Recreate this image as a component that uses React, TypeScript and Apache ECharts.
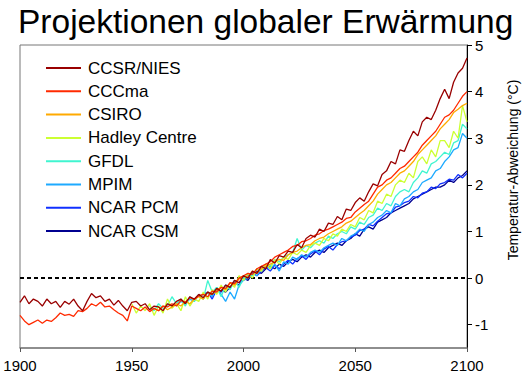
import React, { useEffect, useRef } from "react";
import * as echarts from "echarts";

const TITLE = "Projektionen globaler Erwärmung";
const Y_NAME = "Temperatur-Abweichung (°C)";
const STEP = 2;
const X_TICKS = [1900, 1950, 2000, 2050, 2100];
const Y_TICKS = [-1, 0, 1, 2, 3, 4, 5];

const MODELS = ["CCSR/NIES", "CCCma", "CSIRO", "Hadley Centre", "GFDL", "MPIM", "NCAR PCM", "NCAR CSM"];
const COLORS = ["#990000", "#ff2a00", "#ffaa00", "#ccff33", "#40f5d0", "#1eaaff", "#1030ff", "#000090"];
const START_YEARS = [1900, 1900, 1960, 1950, 1958, 1970, 1980, 1990];

const CCSR_NIES = [
  -0.52, -0.38, -0.55, -0.45, -0.5, -0.6, -0.45, -0.55, -0.5, -0.63,
  -0.5, -0.56, -0.45, -0.6, -0.7, -0.5, -0.33, -0.42, -0.38, -0.5,
  -0.45, -0.58, -0.48, -0.6, -0.7, -0.52, -0.5, -0.6, -0.55, -0.68,
  -0.6, -0.62, -0.7, -0.55, -0.6, -0.5, -0.45, -0.55, -0.4, -0.45,
  -0.35, -0.42, -0.3, -0.35, -0.22, -0.28, -0.15, -0.2, -0.05, -0.1,
  0.05, 0.0, 0.15, 0.1, 0.25, 0.2, 0.4, 0.32, 0.48, 0.45,
  0.58, 0.55, 0.72, 0.65, 0.85, 0.92, 0.88, 1.05, 1.0, 1.18,
  1.15, 1.32, 1.25, 1.48, 1.45, 1.62, 1.72, 1.65, 1.85, 2.02,
  1.98, 2.22, 2.3, 2.5, 2.45, 2.75, 2.72, 2.95, 3.15, 3.05,
  3.35, 3.45, 3.4, 3.6, 3.85, 4.05, 3.85, 4.2, 4.4, 4.5,
  4.72,
];
const CCCMA = [
  -0.8, -0.92, -1.0, -0.95, -0.9, -0.97, -0.9, -0.93, -0.85, -0.75,
  -0.8, -0.78, -0.82, -0.7, -0.72, -0.65, -0.55, -0.6, -0.52, -0.62,
  -0.6, -0.68, -0.75, -0.8, -0.92, -0.6, -0.65, -0.7, -0.62, -0.72,
  -0.65, -0.7, -0.6, -0.62, -0.55, -0.6, -0.48, -0.52, -0.42, -0.46,
  -0.38, -0.35, -0.4, -0.28, -0.3, -0.2, -0.22, -0.1, -0.12, 0.0,
  0.05, 0.1, 0.08, 0.2, 0.25, 0.3, 0.35, 0.45, 0.5, 0.55,
  0.6, 0.68, 0.7, 0.78, 0.8, 0.85, 0.92, 0.95, 1.02, 1.05,
  1.1, 1.15, 1.2, 1.28, 1.3, 1.42, 1.5, 1.58, 1.65, 1.8,
  1.95, 2.0, 2.1, 2.15, 2.25, 2.35, 2.4, 2.5, 2.6, 2.7,
  2.85, 2.95, 3.05, 3.15, 3.3, 3.45, 3.5, 3.6, 3.75, 3.9,
  4.0,
];
const CSIRO = [
  -0.65, -0.7, -0.6, -0.68, -0.62, -0.55, -0.6, -0.5, -0.55, -0.45,
  -0.4, -0.45, -0.3, -0.35, -0.25, -0.2, -0.25, -0.1, -0.15, -0.02,
  0.05, 0.02, 0.15, 0.1, 0.2, 0.25, 0.3, 0.35, 0.4, 0.38,
  0.5, 0.55, 0.58, 0.65, 0.7, 0.72, 0.8, 0.85, 0.88, 0.95,
  1.0, 1.05, 1.1, 1.18, 1.22, 1.3, 1.38, 1.45, 1.55, 1.65,
  1.8, 1.9, 2.0, 2.05, 2.15, 2.25, 2.3, 2.4, 2.5, 2.65,
  2.75, 2.85, 2.95, 3.05, 3.2, 3.3, 3.4, 3.55, 3.62, 3.7,
  3.75,
];
const HADLEY = [
  -0.55, -0.75, -0.6, -0.7, -0.55, -0.8, -0.6, -0.75, -0.45, -0.65,
  -0.55, -0.7, -0.4, -0.6, -0.45, -0.5, -0.3, -0.45, -0.25, -0.35,
  -0.15, -0.3, -0.1, -0.2, 0.05, -0.05, 0.1, 0.0, 0.2, 0.15,
  0.3, 0.2, 0.4, 0.3, 0.45, 0.4, 0.55, 0.5, 0.6, 0.55,
  0.7, 0.75, 0.7, 0.85, 0.8, 0.95, 0.9, 1.05, 1.0, 1.15,
  1.1, 1.3, 1.25, 1.45, 1.4, 1.65, 1.6, 1.8, 1.75, 2.0,
  2.1, 2.05, 2.25, 2.15, 2.5, 2.6, 2.45, 2.75, 2.6, 2.95,
  2.95, 2.8, 3.15, 3.0, 3.7, 3.35,
];
const GFDL = [
  -0.6, -0.7, -0.55, -0.65, -0.6, -0.4, -0.55, -0.45, -0.6, -0.4,
  -0.5, -0.35, -0.45, -0.05, -0.3, -0.2, -0.4, -0.15, -0.25, -0.05,
  -0.2, 0.0, 0.1, 0.05, 0.2, 0.15, 0.3, 0.25, 0.4, 0.35,
  0.45, 0.5, 0.55, 0.85, 0.6, 0.7, 0.65, 0.75, 0.8, 0.75,
  0.9, 0.85, 0.95, 1.0, 0.95, 1.1, 1.05, 1.2, 1.15, 1.3,
  1.35, 1.5, 1.45, 1.6, 1.55, 1.75, 1.85, 1.9, 1.85, 2.05,
  2.15, 2.3, 2.25, 2.45, 2.5, 2.6, 2.7, 2.65, 2.9, 2.95,
  3.3, 3.2,
];
const MPIM = [
  -0.6, -0.5, -0.55, -0.45, -0.5, -0.35, -0.45, -0.3, -0.4, -0.2,
  -0.35, -0.5, -0.3, -0.45, -0.15, -0.05, 0.0, 0.1, 0.05, 0.2,
  0.25, 0.2, 0.3, 0.15, 0.35, 0.3, 0.45, 0.4, 0.5, 0.45,
  0.55, 0.6, 0.55, 0.65, 0.7, 0.75, 0.7, 0.85, 0.8, 0.9,
  0.95, 1.05, 1.0, 1.15, 1.2, 1.3, 1.35, 1.45, 1.4, 1.6,
  1.55, 1.7, 1.75, 1.85, 1.9, 2.05, 2.1, 2.15, 2.3, 2.35,
  2.5, 2.6, 2.75, 2.8, 3.1, 3.0,
];
const NCAR_PCM = [
  -0.4, -0.35, -0.3, -0.45, -0.25, -0.3, -0.15, -0.2, -0.05, -0.1,
  0.0, 0.05, 0.12, 0.05, 0.15, 0.22, 0.15, 0.28, 0.2, 0.3,
  0.38, 0.3, 0.42, 0.48, 0.4, 0.52, 0.58, 0.5, 0.62, 0.68,
  0.6, 0.72, 0.78, 0.8, 0.88, 0.92, 1.02, 1.05, 1.15, 1.12,
  1.22, 1.3, 1.38, 1.4, 1.52, 1.55, 1.62, 1.65, 1.75, 1.72,
  1.82, 1.85, 1.95, 1.92, 2.02, 2.05, 2.12, 2.1, 2.22, 2.15,
  2.25,
];
const NCAR_CSM = [
  -0.25, -0.3, -0.2, -0.1, -0.15, 0.0, -0.05, 0.1, 0.15, 0.1,
  0.2, 0.25, 0.2, 0.3, 0.25, 0.35, 0.4, 0.35, 0.45, 0.5,
  0.45, 0.55, 0.6, 0.55, 0.65, 0.7, 0.75, 0.7, 0.8, 0.85,
  0.95, 0.9, 1.05, 1.1, 1.05, 1.2, 1.25, 1.3, 1.4, 1.45,
  1.5, 1.55, 1.6, 1.7, 1.75, 1.8, 1.85, 1.9, 1.95, 1.95,
  2.0, 2.1, 2.05, 2.15, 2.2, 2.3,
];
const VALUES = [CCSR_NIES, CCCMA, CSIRO, HADLEY, GFDL, MPIM, NCAR_PCM, NCAR_CSM];
const ZERO_LINE = [[1900, 0], [2100, 0]];

const FONT = "'Liberation Sans', Arial, sans-serif";

export default function App() {
  const ref = useRef<HTMLDivElement>(null);
  useEffect(() => {
    document.body.style.margin = "0";
    const chart = echarts.init(ref.current!, undefined, { renderer: "svg" });
    const modelSeries = MODELS.map((name, k) => ({
      name,
      type: "line",
      showSymbol: false,
      symbol: "none",
      data: VALUES[k].map((v, i) => [START_YEARS[k] + i * STEP, v]),
      lineStyle: { color: COLORS[k], width: 1.3 },
      itemStyle: { color: COLORS[k] },
      z: 10 - k,
      silent: true,
    }));
    chart.setOption({
      animation: false,
      title: {
        text: TITLE,
        left: 18,
        top: 6,
        padding: 0,
        textStyle: { fontFamily: FONT, fontSize: 33.5, lineHeight: 30, fontWeight: "normal", color: "#000" },
      },
      grid: {
        left: 20,
        right: 61,
        top: 45,
        bottom: 29,
        show: true,
        borderColor: "#777",
        borderWidth: 1,
        outerBoundsMode: "none",
        containLabel: false,
      },
      legend: {
        data: MODELS,
        orient: "vertical",
        left: 41,
        top: 54,
        icon: "rect",
        itemWidth: 35,
        itemHeight: 2,
        itemGap: 5.3,
        textStyle: { fontFamily: FONT, fontSize: 17, color: "#000", lineHeight: 18, padding: [0, 0, 0, 2] },
        selectedMode: false,
      },
      xAxis: {
        type: "value",
        min: 1900,
        max: 2100,
        interval: 50,
        splitLine: { show: false },
        axisLine: { onZero: false, lineStyle: { color: "#808080", width: 1.5 } },
        axisTick: { length: 4, lineStyle: { color: "#555" }, customValues: X_TICKS },
        axisLabel: {
          fontFamily: FONT,
          fontSize: 15,
          color: "#000",
          margin: 10,
          customValues: X_TICKS,
          formatter: (v: number) => String(v),
        },
      },
      yAxis: {
        type: "value",
        position: "right",
        min: -1.5,
        max: 5,
        splitLine: { show: false },
        axisLine: { show: true, onZero: false, lineStyle: { color: "#000", width: 1 } },
        axisTick: { show: true, length: 5, lineStyle: { color: "#000" }, customValues: Y_TICKS },
        axisLabel: { fontFamily: FONT, fontSize: 15, lineHeight: 14, color: "#000", margin: 8, customValues: Y_TICKS },
      },
      graphic: [
        {
          type: "text",
          x: 513,
          y: 170,
          rotation: Math.PI / 2,
          style: {
            text: Y_NAME,
            fontFamily: FONT,
            fontSize: 14,
            fill: "#000",
            align: "center",
            verticalAlign: "middle",
          },
        },
      ],
      series: [
        {
          name: "zero",
          type: "line",
          symbol: "none",
          data: ZERO_LINE,
          lineStyle: { color: "#000", width: 2, type: [4, 3] },
          z: 1,
          silent: true,
        },
        ...modelSeries,
      ],
    });
    return () => chart.dispose();
  }, []);
  return <div ref={ref} style={{ position: "absolute", left: 0, top: 0, width: 528, height: 377 }} />;
}
